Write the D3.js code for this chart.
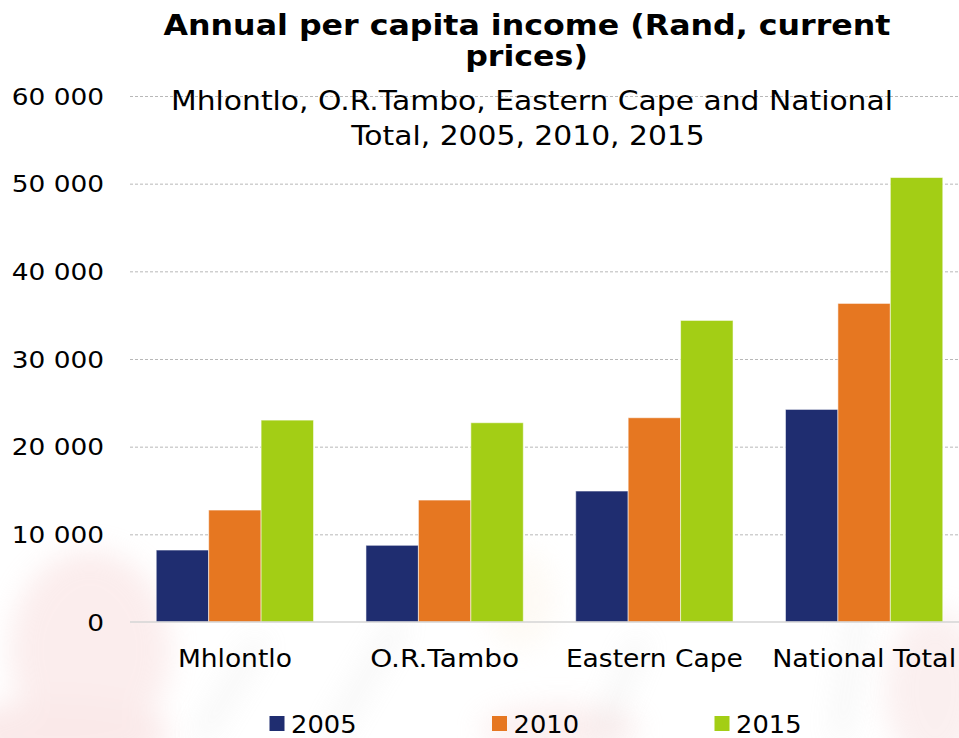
<!DOCTYPE html>
<html>
<head>
<meta charset="utf-8">
<script src="https://cdn.jsdelivr.net/npm/d3@7"></script>
<style>
  html, body { margin: 0; padding: 0; background: #ffffff; }
  svg { display: block; }
  text { font-family: "DejaVu Sans", Verdana, sans-serif; fill: #000; }
</style>
</head>
<body>
<svg id="chart" width="959" height="738"></svg>
<script>
// Annual per capita income, Rand at current prices
const categories = ["Mhlontlo", "O.R.Tambo", "Eastern Cape", "National Total"];
const years = ["2005", "2010", "2015"];
const income2005 = [8210, 8750, 14940, 24250];
const income2010 = [12770, 13910, 23300, 36340];
const income2015 = [23030, 22730, 34400, 50700];
const yTickValues = [0, 10000, 20000, 30000, 40000, 50000, 60000];
const seriesColors = ["#1f2d70", "#e67721", "#a3ce15"];

const titleLines = ["Annual per capita income (Rand, current", "prices)"];
const subtitleLines = ["Mhlontlo, O.R.Tambo, Eastern Cape and National", "Total, 2005, 2010, 2015"];

const seriesByYear = [income2005, income2010, income2015];
const table = categories.map((c, i) => ({
  category: c,
  values: years.map((y, j) => ({ year: y, value: seriesByYear[j][i] }))
}));

const svg = d3.select("#chart");
const W = 959, H = 738;
const margin = { left: 130, right: -10, top: 96, bottom: 116 };

// faint background artwork
const defs = svg.append("defs");
defs.append("filter").attr("id", "soft")
  .attr("x", "-50%").attr("y", "-50%").attr("width", "200%").attr("height", "200%")
  .append("feGaussianBlur").attr("stdDeviation", 14);
const bg = svg.append("g").attr("filter", "url(#soft)").attr("opacity", 0.3);
bg.append("ellipse").attr("cx", 90).attr("cy", 650).attr("rx", 80).attr("ry", 100).attr("fill", "#f3c4c4");
bg.append("ellipse").attr("cx", 60).attr("cy", 735).attr("rx", 110).attr("ry", 35).attr("fill", "#f0b9b9");
bg.append("ellipse").attr("cx", 560).attr("cy", 730).attr("rx", 80).attr("ry", 25).attr("fill", "#f3caca");
bg.append("ellipse").attr("cx", 935).attr("cy", 690).attr("rx", 50).attr("ry", 80).attr("fill", "#f1cccc");
bg.append("ellipse").attr("cx", 520).attr("cy", 600).attr("rx", 35).attr("ry", 50).attr("fill", "#fbeedd");
const strokes = svg.append("g").attr("opacity", 0.3).attr("filter", "url(#soft)");
[[330, 738, 400, 620], [600, 738, 640, 640], [840, 738, 860, 600], [200, 738, 260, 640]].forEach(s => {
  strokes.append("line").attr("x1", s[0]).attr("y1", s[1]).attr("x2", s[2]).attr("y2", s[3])
    .attr("stroke", "#c8c8c8").attr("stroke-width", 10);
});

// scales
const x = d3.scaleBand().domain(categories)
  .range([margin.left, W - margin.right])
  .paddingInner(0.25).paddingOuter(0.125);
const xInner = d3.scaleBand().domain(years).range([0, x.bandwidth()]).padding(0);
const y = d3.scaleLinear().domain([0, 60000]).range([H - margin.bottom, margin.top]);

// horizontal gridlines
const grid = svg.append("g")
  .attr("transform", `translate(${margin.left},0)`)
  .call(d3.axisLeft(y).tickValues(yTickValues.filter(v => v > 0)).tickSize(-(W - margin.left)).tickFormat(""));
grid.select(".domain").remove();
grid.selectAll(".tick line").attr("stroke", "#b8b8b8").attr("stroke-dasharray", "3,2").attr("stroke-width", 1);

// titles
function fitLine(sel, width) {
  const natural = sel.node().getComputedTextLength();
  sel.attr("textLength", width).attr("lengthAdjust", "spacingAndGlyphs");
  return width / natural;
}
const t1 = svg.append("text").attr("x", 527).attr("y", 35).attr("text-anchor", "middle")
  .style("font-size", "29px").style("font-weight", "bold").text(titleLines[0]);
const sxT = fitLine(t1, 727);
const t2 = svg.append("text").attr("x", 526.5).attr("y", 66).attr("text-anchor", "middle")
  .style("font-size", "29px").style("font-weight", "bold").text(titleLines[1]);
fitLine(t2, t2.node().getComputedTextLength() * sxT);

const s1 = svg.append("text").attr("x", 532).attr("y", 109.5).attr("text-anchor", "middle")
  .style("font-size", "27px").text(subtitleLines[0]);
const sxS = fitLine(s1, 722);
const s2 = svg.append("text").attr("x", 528).attr("y", 145).attr("text-anchor", "middle")
  .style("font-size", "27px").text(subtitleLines[1]);
fitLine(s2, s2.node().getComputedTextLength() * sxS);

// bars
const groups = svg.append("g").selectAll("g").data(table).join("g")
  .attr("transform", d => `translate(${x(d.category)},0)`);
groups.selectAll("rect").data(d => d.values).join("rect")
  .attr("x", d => xInner(d.year))
  .attr("width", xInner.bandwidth())
  .attr("y", d => y(d.value))
  .attr("height", d => y(0) - y(d.value))
  .attr("fill", (d, i) => seriesColors[i])
  .attr("stroke", "rgba(255,255,255,0.55)")
  .attr("stroke-width", 1);

// baseline
svg.append("line").attr("x1", margin.left).attr("x2", W).attr("y1", y(0)).attr("y2", y(0))
  .attr("stroke", "#d4d4d4").attr("stroke-width", 1.5);

// y axis labels
const yAxis = svg.append("g")
  .attr("transform", `translate(104,0)`)
  .call(d3.axisLeft(y).tickValues(yTickValues).tickSize(0).tickPadding(0)
    .tickFormat(v => d3.format(",")(v).replace(/,/g, " ")));
yAxis.select(".domain").remove();
yAxis.selectAll("text").style("font-size", "23px").attr("dy", "0.36em").attr("fill", "#000");
const ref = yAxis.selectAll("text").filter(v => v === 60000).node().getComputedTextLength();
const sxY = 92.3 / ref;
yAxis.selectAll("text").each(function () {
  const t = d3.select(this);
  t.attr("textLength", this.getComputedTextLength() * sxY).attr("lengthAdjust", "spacingAndGlyphs");
});

// category labels
const catWidths = { "Mhlontlo": 114, "O.R.Tambo": 149, "Eastern Cape": 177, "National Total": 184 };
const xAxis = svg.append("g")
  .attr("transform", `translate(0,${y(0)})`)
  .call(d3.axisBottom(x).tickSize(0).tickPadding(0));
xAxis.select(".domain").remove();
xAxis.selectAll("text").style("font-size", "24px").attr("dy", 0).attr("y", 45).attr("fill", "#000")
  .each(function (d) {
    d3.select(this).attr("textLength", catWidths[d]).attr("lengthAdjust", "spacingAndGlyphs");
  });

// legend
const legend = svg.append("g").selectAll("g").data(years).join("g")
  .attr("transform", (d, i) => `translate(${269.5 + i * 222.5},716)`);
legend.append("rect").attr("width", 15).attr("height", 15).attr("fill", (d, i) => seriesColors[i]);
legend.append("text").attr("x", 21.5).attr("y", 16.5).style("font-size", "24px").text(d => d)
  .each(function () {
    d3.select(this).attr("textLength", 65.5).attr("lengthAdjust", "spacingAndGlyphs");
  });
</script>
</body>
</html>
